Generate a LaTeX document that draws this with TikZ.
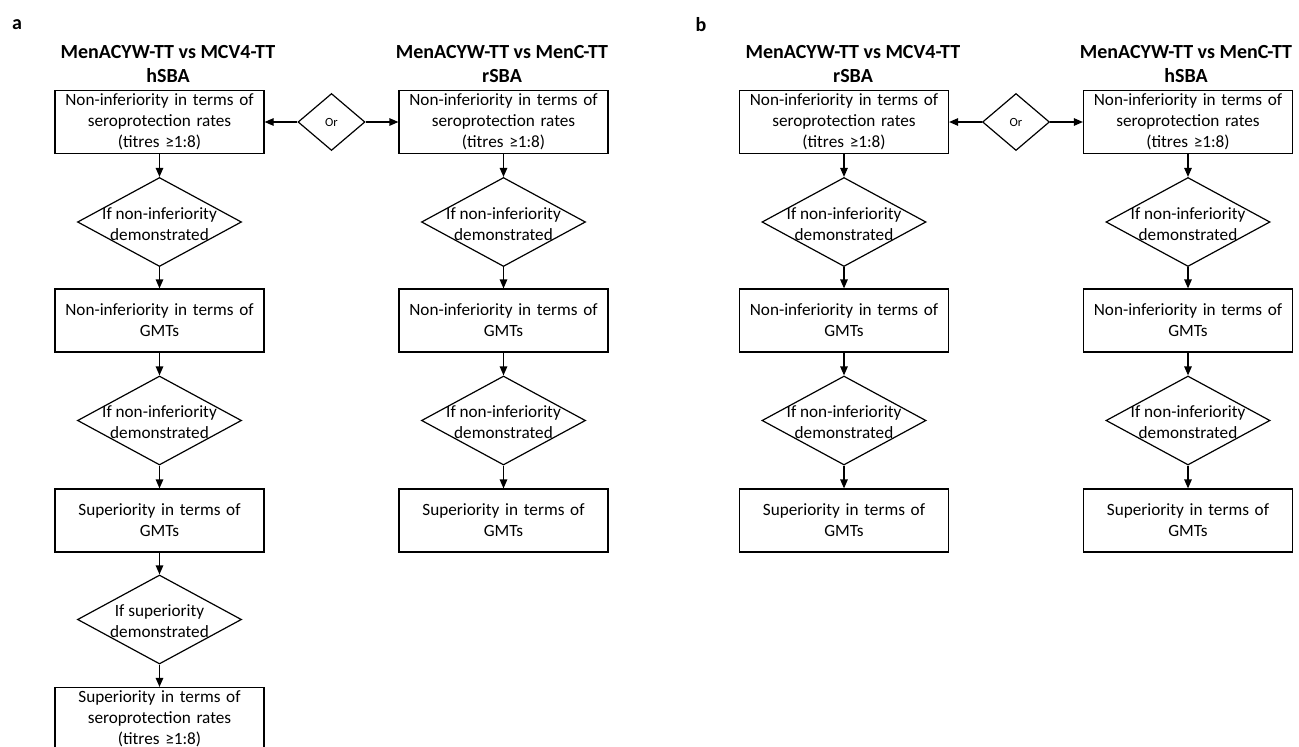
\documentclass[tikz,border=0pt]{standalone}
\usepackage{fontspec}
\setmainfont{Carlito}
\usetikzlibrary{shapes.geometric,arrows.meta}

\tikzset{
	testbox/.style={draw, line width=1.2pt, minimum width=209pt, minimum height=63pt,
		text width=205pt, align=center, inner sep=0pt, font=\fontsize{17.2}{21}\selectfont},
	ifdia/.style={diamond, draw, line width=1.2pt, minimum width=164pt, minimum height=89pt, inner sep=0pt},
	diatext/.style={align=center, font=\fontsize{17.2}{21}\selectfont, yshift=-2pt},
	ordia/.style={diamond, draw, line width=1.2pt, minimum width=67pt, minimum height=57pt,
		inner sep=0pt, font=\fontsize{12.5}{14}\selectfont},
	head/.style={align=center, font=\bfseries\fontsize{20}{24}\selectfont},
	panel/.style={font=\bfseries\fontsize{20}{24}\selectfont},
	flow/.style={-{Triangle[length=9pt,width=7.5pt]}, line width=1.2pt}
}

\begin{document}
\begin{tikzpicture}[x=1pt,y=-1pt]
	\useasboundingbox (0,0) rectangle (1299,747);

	% panel a
	\node[panel] (alab) at (17,25) {a};
	\node[head] (a1head) at (168,64) {MenACYW-TT vs MCV4-TT\\hSBA};
	\node[head] (a2head) at (502,64) {MenACYW-TT vs MenC-TT\\rSBA};

	\node[testbox] (a1box1) at (159.5,122) {Non-inferiority in terms of\\seroprotection rates\\(titres ≥1:8)};
	\node[ifdia, label={[diatext]center:If non-inferiority\\demonstrated}] (a1dia1) at (159.5,222) {};
	\node[testbox] (a1box2) at (159.5,320.5) {Non-inferiority in terms of\\GMTs};
	\node[ifdia, label={[diatext]center:If non-inferiority\\demonstrated}] (a1dia2) at (159.5,420.5) {};
	\node[testbox] (a1box3) at (159.5,520.5) {Superiority in terms of\\GMTs};
	\node[ifdia, label={[diatext]center:If superiority\\demonstrated}] (a1dia3) at (159.5,619.5) {};
	\node[testbox] (a1box4) at (159.5,719) {Superiority in terms of\\seroprotection rates\\(titres ≥1:8)};

	\node[ordia] (aOr) at (331.5,122) {Or};

	\node[testbox] (a2box1) at (503.5,122) {Non-inferiority in terms of\\seroprotection rates\\(titres ≥1:8)};
	\node[ifdia, label={[diatext]center:If non-inferiority\\demonstrated}] (a2dia1) at (503.5,222) {};
	\node[testbox] (a2box2) at (503.5,320.5) {Non-inferiority in terms of\\GMTs};
	\node[ifdia, label={[diatext]center:If non-inferiority\\demonstrated}] (a2dia2) at (503.5,420.5) {};
	\node[testbox] (a2box3) at (503.5,520.5) {Superiority in terms of\\GMTs};

	\draw[flow] (aOr) -- (a1box1);
	\draw[flow] (aOr) -- (a2box1);
	\draw[flow] (a1box1) -- (a1dia1);
	\draw[flow] (a1dia1) -- (a1box2);
	\draw[flow] (a1box2) -- (a1dia2);
	\draw[flow] (a1dia2) -- (a1box3);
	\draw[flow] (a1box3) -- (a1dia3);
	\draw[flow] (a1dia3) -- (a1box4);
	\draw[flow] (a2box1) -- (a2dia1);
	\draw[flow] (a2dia1) -- (a2box2);
	\draw[flow] (a2box2) -- (a2dia2);
	\draw[flow] (a2dia2) -- (a2box3);

	% panel b
	\node[panel] (blab) at (701,25) {b};
	\node[head] (b1head) at (853,64) {MenACYW-TT vs MCV4-TT\\rSBA};
	\node[head] (b2head) at (1186,64) {MenACYW-TT vs MenC-TT\\hSBA};

	\node[testbox] (b1box1) at (844,122) {Non-inferiority in terms of\\seroprotection rates\\(titres ≥1:8)};
	\node[ifdia, label={[diatext]center:If non-inferiority\\demonstrated}] (b1dia1) at (844,222) {};
	\node[testbox] (b1box2) at (844,320.5) {Non-inferiority in terms of\\GMTs};
	\node[ifdia, label={[diatext]center:If non-inferiority\\demonstrated}] (b1dia2) at (844,420.5) {};
	\node[testbox] (b1box3) at (844,520.5) {Superiority in terms of\\GMTs};

	\node[ordia] (bOr) at (1016,122) {Or};

	\node[testbox] (b2box1) at (1188,122) {Non-inferiority in terms of\\seroprotection rates\\(titres ≥1:8)};
	\node[ifdia, label={[diatext]center:If non-inferiority\\demonstrated}] (b2dia1) at (1188,222) {};
	\node[testbox] (b2box2) at (1188,320.5) {Non-inferiority in terms of\\GMTs};
	\node[ifdia, label={[diatext]center:If non-inferiority\\demonstrated}] (b2dia2) at (1188,420.5) {};
	\node[testbox] (b2box3) at (1188,520.5) {Superiority in terms of\\GMTs};

	\draw[flow] (bOr) -- (b1box1);
	\draw[flow] (bOr) -- (b2box1);
	\draw[flow] (b1box1) -- (b1dia1);
	\draw[flow] (b1dia1) -- (b1box2);
	\draw[flow] (b1box2) -- (b1dia2);
	\draw[flow] (b1dia2) -- (b1box3);
	\draw[flow] (b2box1) -- (b2dia1);
	\draw[flow] (b2dia1) -- (b2box2);
	\draw[flow] (b2box2) -- (b2dia2);
	\draw[flow] (b2dia2) -- (b2box3);
\end{tikzpicture}
\end{document}
